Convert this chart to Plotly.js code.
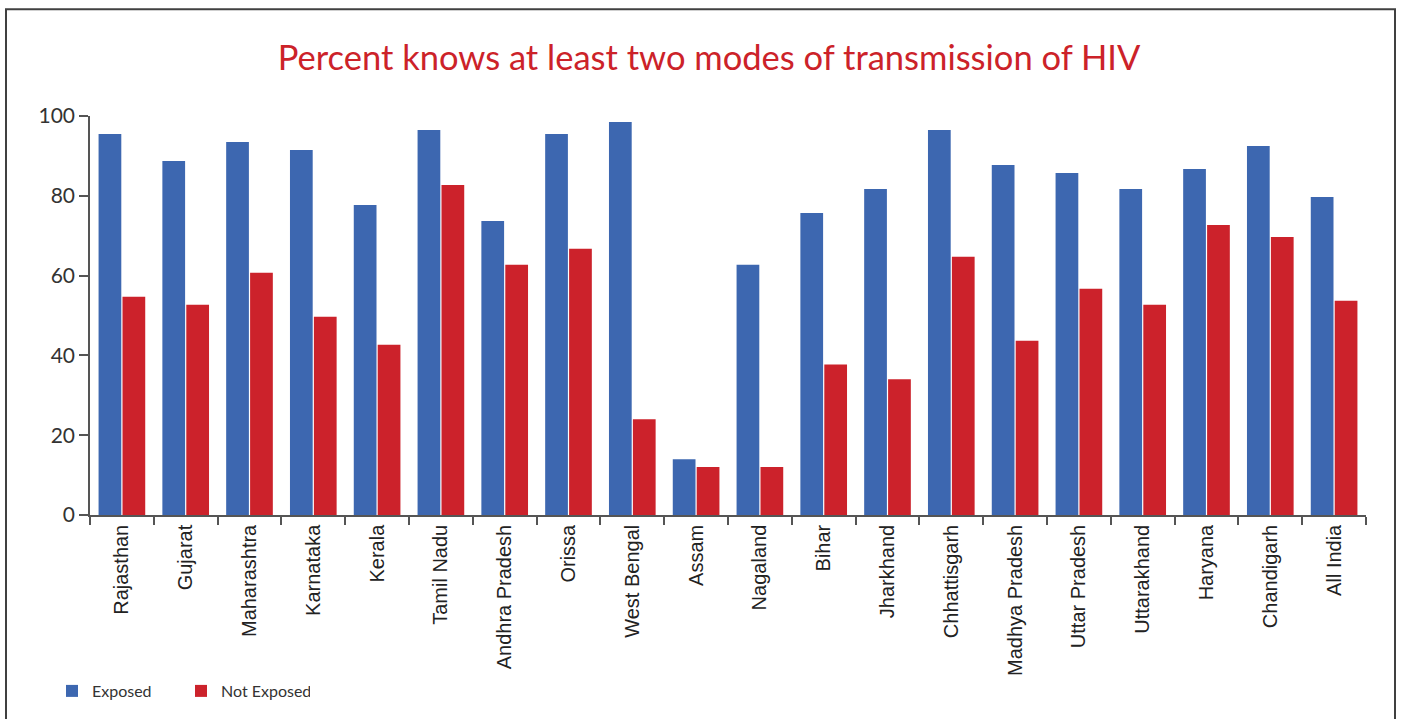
<!DOCTYPE html>
<html>
<head>
<meta charset="utf-8">
<script src="https://cdn.plot.ly/plotly-3.0.1.min.js"></script>
<style>
html,body{margin:0;padding:0;background:#fff;}
#chart{width:1401px;height:719px;}
</style>
</head>
<body>
<div id="chart"></div>
<script>
const states = ["Rajasthan","Gujarat","Maharashtra","Karnataka","Kerala","Tamil Nadu","Andhra Pradesh","Orissa","West Bengal","Assam","Nagaland","Bihar","Jharkhand","Chhattisgarh","Madhya Pradesh","Uttar Pradesh","Uttarakhand","Haryana","Chandigarh","All India"];
const exposed    = [95.5, 88.7, 93.5, 91.5, 77.7, 96.5, 73.7, 95.5, 98.5, 14.0, 62.7, 75.7, 81.7, 96.5, 87.7, 85.7, 81.7, 86.7, 92.5, 79.7];
const notExposed = [54.7, 52.7, 60.7, 49.7, 42.7, 82.7, 62.7, 66.7, 24.0, 12.0, 12.0, 37.7, 34.0, 64.7, 43.7, 56.7, 52.7, 72.7, 69.7, 53.7];
const yTicks = [0, 20, 40, 60, 80, 100];

const traces = [
  {type:'bar', name:'Exposed', x:states, y:exposed, marker:{color:'#3d67b0'}, hoverinfo:'x+y'},
  {type:'bar', name:'Not Exposed', x:states, y:notExposed, marker:{color:'#cc222b'}, hoverinfo:'x+y'}
];

const L = 90, R = 35, T = 116, B = 203;
const W = 1401 - L - R, H = 719 - T - B;
const px = v => (v - L) / W;
const py = v => (719 - B - v) / H;

const layout = {
  width:1401, height:719,
  margin:{l:L, r:R, t:T, b:B, pad:0},
  paper_bgcolor:'#ffffff', plot_bgcolor:'#ffffff',
  barmode:'group', bargap:0.25, bargroupgap:0.05,
  title:{text:'Percent knows at least two modes of transmission of HIV',
         font:{family:'Lato, sans-serif', size:34.5, color:'#cc2229'},
         x:709/1401, xanchor:'center', xref:'container', y:1-58/719, yanchor:'middle', yref:'container'},
  xaxis:{type:'category', tickangle:-90, tickfont:{family:'Liberation Sans, Arial, sans-serif', size:20, color:'#222'},
         showline:true, linecolor:'#555', linewidth:1.5, ticks:'outside', ticklen:8, tickcolor:'#555', tickwidth:1.5,
         tickson:'boundaries', showgrid:false, zeroline:false, automargin:false, fixedrange:true},
  yaxis:{range:[0,100], tickvals:yTicks, ticktext:yTicks.map(String),
         tickfont:{family:'Lato, sans-serif', size:21, color:'#333'},
         showline:true, linecolor:'#555', linewidth:1.5, ticks:'outside', ticklen:9, tickcolor:'#555', tickwidth:1.5,
         showgrid:false, zeroline:false, automargin:false, fixedrange:true},
  showlegend:true,
  legend:{orientation:'h', x:px(52), xanchor:'left', y:py(691), yanchor:'middle',
          font:{family:'Lato, sans-serif', size:16, color:'#333'},
          entrywidth:84, entrywidthmode:'pixels', bgcolor:'rgba(0,0,0,0)', traceorder:'normal'},
  shapes:[
    {type:'rect', xref:'paper', yref:'paper', x0:px(6), x1:px(1395), y0:py(730), y1:py(9),
     line:{color:'#404040', width:2}, fillcolor:'rgba(0,0,0,0)', layer:'below'}
  ]
};

Plotly.newPlot('chart', traces, layout, {displayModeBar:false, responsive:false});
</script>
</body>
</html>
